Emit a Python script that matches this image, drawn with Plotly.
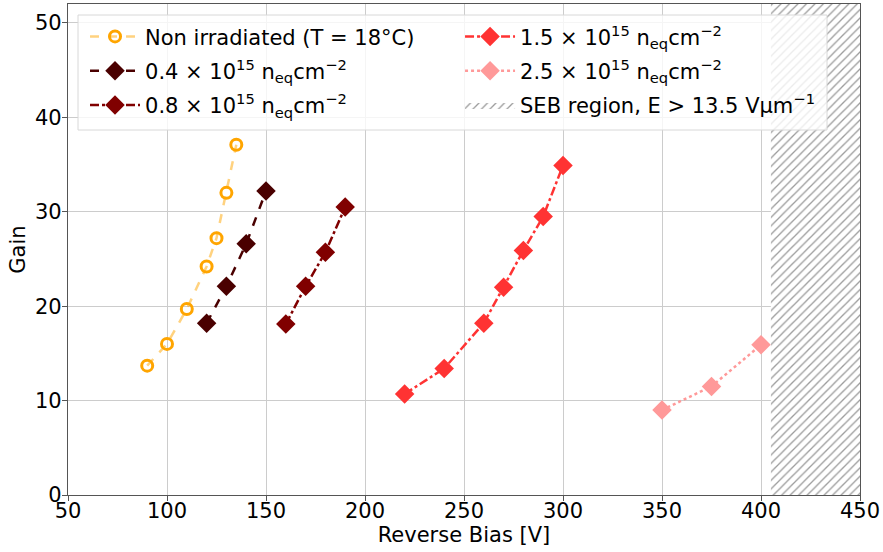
import plotly.graph_objects as go

# Data
v_non = [90, 100, 110, 120, 125, 130, 135]
g_non = [13.7, 16.0, 19.7, 24.2, 27.2, 32.0, 37.1]
v_04 = [120, 130, 140, 150]
g_04 = [18.2, 22.1, 26.6, 32.2]
v_08 = [160, 170, 180, 190]
g_08 = [18.1, 22.1, 25.7, 30.5]
v_15 = [220, 240, 260, 270, 280, 290, 300]
g_15 = [10.7, 13.4, 18.2, 22.0, 25.9, 29.5, 34.9]
v_25 = [350, 375, 400]
g_25 = [9.0, 11.5, 15.9]
seb_start = 405
x_max = 450
y_max = 52

fig = go.Figure()

fig.add_trace(go.Scatter(
    x=[seb_start, x_max, x_max, seb_start, seb_start],
    y=[0, 0, y_max, y_max, 0],
    mode="lines", fill="toself",
    fillcolor="rgba(255,255,255,0)",
    fillpattern=dict(shape="/", fgcolor="#3a3a3a", bgcolor="white", size=6, solidity=0.22),
    line=dict(width=0, color="#444444"),
    name="SEB region, E > 13.5 Vμm<sup>−1</sup>",
    legend="legend2", legendrank=3, legendgroup="g6",
))
fig.add_trace(go.Scatter(
    x=v_non, y=g_non, mode="lines+markers",
    name="Non irradiated (T = 18°C)",
    line=dict(color="rgba(255,165,0,0.5)", width=2.5, dash="dash"),
    marker=dict(symbol="circle-open", size=11, color="#FFA500", line=dict(width=3, color="#FFA500")),
    legend="legend", legendrank=1, legendgroup="g1",
))
fig.add_trace(go.Scatter(
    x=v_04, y=g_04, mode="lines+markers",
    name="0.4 × 10<sup>15</sup> n<sub>eq</sub>cm<sup>−2</sup>",
    line=dict(color="#4A0000", width=2.5, dash="dash"),
    marker=dict(symbol="diamond", size=15, color="#4A0000"),
    legend="legend", legendrank=2, legendgroup="g2",
))
fig.add_trace(go.Scatter(
    x=v_08, y=g_08, mode="lines+markers",
    name="0.8 × 10<sup>15</sup> n<sub>eq</sub>cm<sup>−2</sup>",
    line=dict(color="#800000", width=2.5, dash="dashdot"),
    marker=dict(symbol="diamond", size=15, color="#800000"),
    legend="legend", legendrank=3, legendgroup="g3",
))
fig.add_trace(go.Scatter(
    x=v_15, y=g_15, mode="lines+markers",
    name="1.5 × 10<sup>15</sup> n<sub>eq</sub>cm<sup>−2</sup>",
    line=dict(color="#FF3333", width=2.5, dash="dashdot"),
    marker=dict(symbol="diamond", size=15, color="#FF3333"),
    legend="legend2", legendrank=1, legendgroup="g4",
))
fig.add_trace(go.Scatter(
    x=v_25, y=g_25, mode="lines+markers",
    name="2.5 × 10<sup>15</sup> n<sub>eq</sub>cm<sup>−2</sup>",
    line=dict(color="#FF9999", width=2.5, dash="dot"),
    marker=dict(symbol="diamond", size=15, color="#FF9999"),
    legend="legend2", legendrank=2, legendgroup="g5",
))

font_family = "DejaVu Sans"
axis_common = dict(
    showgrid=True, gridcolor="#CCCCCC", gridwidth=1,
    showline=True, linecolor="#555555", linewidth=1.2, mirror=True,
    ticks="outside", ticklen=5, tickcolor="#555555",
    tickfont=dict(size=21, color="black", family=font_family),
    zeroline=False,
)
fig.update_xaxes(range=[50, x_max], dtick=50, tick0=50, ticklabelstandoff=-8,
                 title=dict(text="Reverse Bias [V]", font=dict(size=21, family=font_family), standoff=0),
                 **axis_common)
fig.update_yaxes(range=[0, y_max], dtick=10, tick0=0, ticklabelstandoff=-4,
                 title=dict(text="Gain", font=dict(size=21, family=font_family), standoff=3),
                 **axis_common)

leg_common = dict(
    orientation="v", yanchor="top", xanchor="left",
    bgcolor="rgba(0,0,0,0)", borderwidth=0,
    font=dict(size=21, family=font_family, color="black"),
    itemwidth=50, tracegroupgap=4,
)

fig.update_layout(
    width=883, height=552,
    margin=dict(l=68, r=23, t=4, b=57),
    plot_bgcolor="white", paper_bgcolor="white",
    font=dict(family=font_family, color="black"),
    legend=dict(x=0.0215, y=0.975, **leg_common),
    legend2=dict(x=0.495, y=0.975, **leg_common),
    shapes=[dict(
        type="rect", xref="paper", yref="paper",
        x0=(78 - 68) / 792, x1=(827 - 68) / 792,
        y0=(495 - 130) / 491, y1=(495 - 15) / 491,
        fillcolor="rgba(255,255,255,0.8)",
        line=dict(color="#D8D8D8", width=1), layer="above",
    )],
)

fig.write_html("out.html")
